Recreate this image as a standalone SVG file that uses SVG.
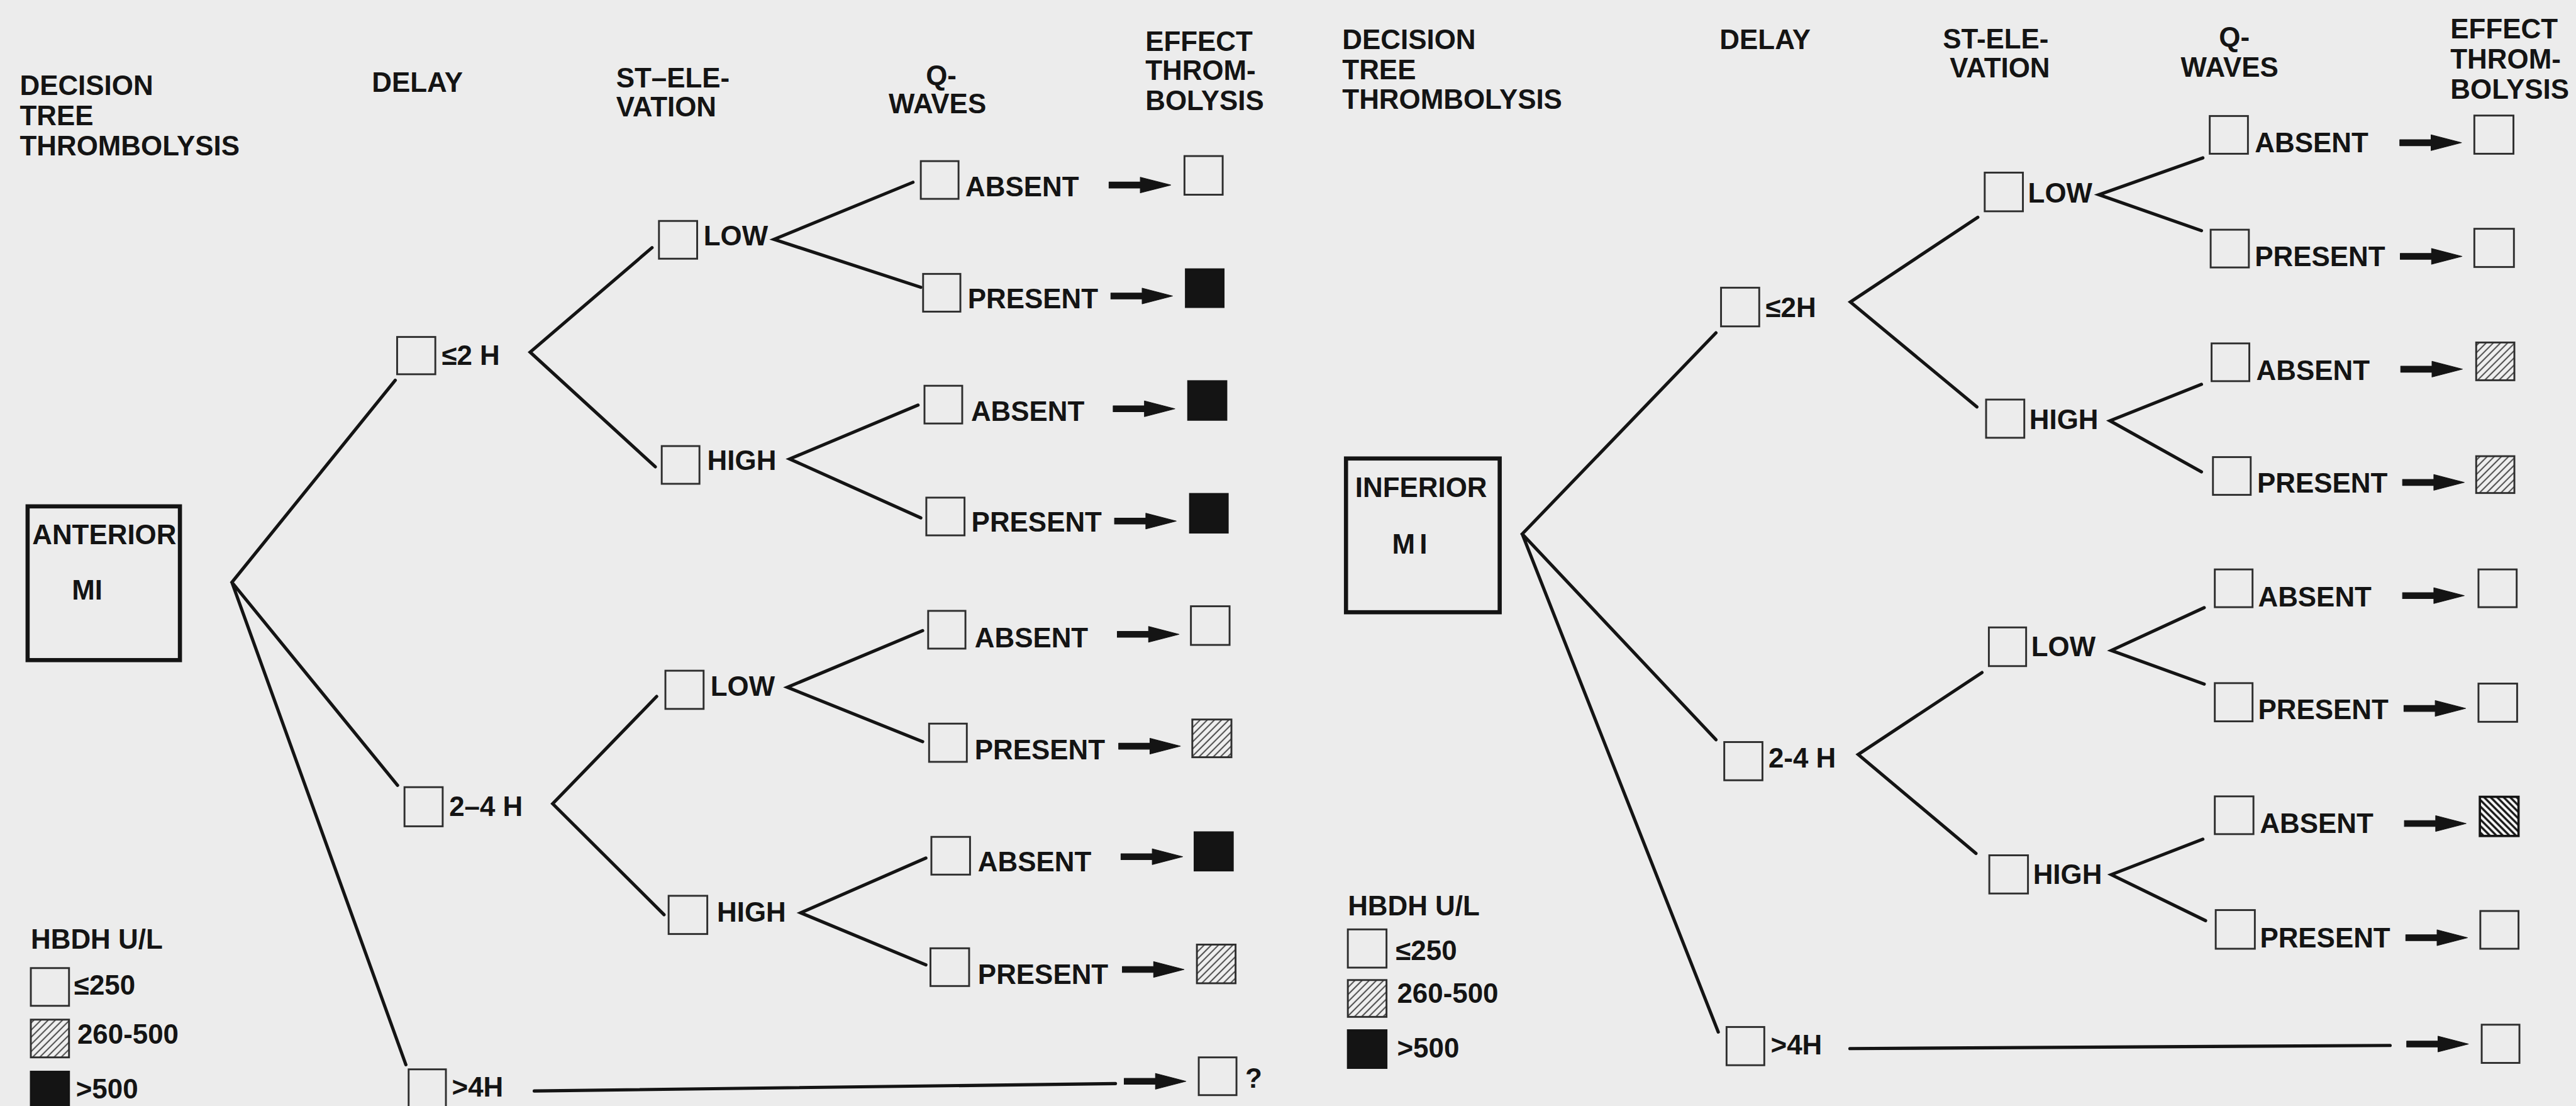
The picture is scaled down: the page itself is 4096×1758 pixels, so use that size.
<svg xmlns="http://www.w3.org/2000/svg" width="4096" height="1758" viewBox="0 0 4096 1758">
<style>
text{font-family:"Liberation Sans",Arial,sans-serif;font-weight:bold;font-size:60px;fill:#141414}
.bx{fill:none;stroke:#2e2e2e;stroke-width:4}
.root{fill:none;stroke:#141414;stroke-width:9}
.blk{fill:#141414;stroke:#141414;stroke-width:4}
.ht{fill:url(#hatch);stroke:#2e2e2e;stroke-width:4}
.ht2{fill:url(#hatch2);stroke:#141414;stroke-width:5}
.ln{fill:none;stroke:#141414;stroke-width:7;stroke-linecap:round;stroke-linejoin:miter}
.ar{fill:#141414;stroke:#141414;stroke-width:1.5;stroke-linejoin:round}
</style>
<defs>
<pattern id="hatch" patternUnits="userSpaceOnUse" width="11" height="11" patternTransform="rotate(45)">
<rect width="11" height="11" fill="#efefef"/>
<line x1="2" y1="0" x2="2" y2="11" stroke="#333" stroke-width="2.4"/>
</pattern>
<pattern id="hatch2" patternUnits="userSpaceOnUse" width="10" height="10" patternTransform="rotate(-45)">
<rect width="10" height="10" fill="#f5f5f5"/>
<line x1="2.5" y1="0" x2="2.5" y2="10" stroke="#141414" stroke-width="4.5"/>
</pattern>
<path id="arrow" d="M0,-6.5 H68 V-17 L134,0 L68,17 V6.5 H0 Z"/>
</defs>
<rect width="4096" height="1758" fill="#ececec"/>
<g transform="scale(0.7317)">

<!-- LEFT TREE -->
<g id="left-headers">
<text x="43" y="207">DECISION</text>
<text x="43" y="272">TREE</text>
<text x="43" y="337">THROMBOLYSIS</text>
<text x="808" y="200">DELAY</text>
<text x="1339" y="190">ST–ELE-</text>
<text x="1339" y="253">VATION</text>
<text x="2012" y="184">Q-</text>
<text x="1931" y="246">WAVES</text>
<text x="2489" y="111">EFFECT</text>
<text x="2489" y="174">THROM-</text>
<text x="2489" y="239">BOLYSIS</text>
</g>

<g id="L-connectors">
<path class="ln" d="M859,826 L504,1265 L864,1706 M504,1265 L882,2313"/>
<path class="ln" d="M1417,538 L1152,765 L1424,1014"/>
<path class="ln" d="M1427,1513 L1201,1746 L1443,1987"/>
<path class="ln" d="M1984,396 L1682,520 L2001,624"/>
<path class="ln" d="M1995,880 L1716,997 L2001,1125"/>
<path class="ln" d="M2005,1370 L1711,1493 L2005,1611"/>
<path class="ln" d="M2012,1864 L1740,1983 L2012,2096"/>
<path class="ln" d="M1161,2370 L2424,2354"/>
<use href="#arrow" class="ar" x="2410" y="402"/>
<use href="#arrow" class="ar" x="2414" y="643"/>
<use href="#arrow" class="ar" x="2419" y="888"/>
<use href="#arrow" class="ar" x="2422" y="1132"/>
<use href="#arrow" class="ar" x="2428" y="1378"/>
<use href="#arrow" class="ar" x="2431" y="1621"/>
<use href="#arrow" class="ar" x="2436" y="1861"/>
<use href="#arrow" class="ar" x="2439" y="2106"/>
<use href="#arrow" class="ar" x="2443" y="2349"/>
</g>

<g id="L-root"><rect class="root" x="60" y="1100" width="331" height="334"/><text x="70" y="1182">ANTERIOR</text><text x="156" y="1303">MI</text></g>
<g id="L-d1"><rect class="bx" x="863" y="732" width="83" height="81"/><text x="960" y="792">≤2 H</text></g>
<g id="L-d2"><rect class="bx" x="879" y="1710" width="83" height="85"/><text x="976" y="1772">2–4 H</text></g>
<g id="L-d3"><rect class="bx" x="888" y="2323" width="81" height="82"/><text x="982" y="2382">&gt;4H</text></g>
<g id="L-s1"><rect class="bx" x="1432" y="480" width="83" height="82"/><text x="1529" y="533">LOW</text></g>
<g id="L-s2"><rect class="bx" x="1438" y="969" width="82" height="82"/><text x="1537" y="1021">HIGH</text></g>
<g id="L-s3"><rect class="bx" x="1446" y="1457" width="83" height="83"/><text x="1544" y="1511">LOW</text></g>
<g id="L-s4"><rect class="bx" x="1453" y="1946" width="84" height="83"/><text x="1558" y="2002">HIGH</text></g>
<g id="L-q1"><rect class="bx" x="2001" y="350" width="82" height="82"/><text x="2098" y="427">ABSENT</text></g>
<g id="L-q2"><rect class="bx" x="2006" y="595" width="81" height="82"/><text x="2103" y="669">PRESENT</text></g>
<g id="L-q3"><rect class="bx" x="2009" y="838" width="82" height="82"/><text x="2110" y="914">ABSENT</text></g>
<g id="L-q4"><rect class="bx" x="2013" y="1081" width="83" height="82"/><text x="2111" y="1155">PRESENT</text></g>
<g id="L-q5"><rect class="bx" x="2017" y="1327" width="81" height="82"/><text x="2118" y="1406">ABSENT</text></g>
<g id="L-q6"><rect class="bx" x="2019" y="1572" width="82" height="83"/><text x="2118" y="1649">PRESENT</text></g>
<g id="L-q7"><rect class="bx" x="2024" y="1818" width="84" height="82"/><text x="2125" y="1893">ABSENT</text></g>
<g id="L-q8"><rect class="bx" x="2022" y="2060" width="84" height="82"/><text x="2125" y="2138">PRESENT</text></g>
<g id="L-e1"><rect class="bx" x="2574" y="339" width="83" height="84"/></g>
<g id="L-e2"><rect class="blk" x="2577" y="585" width="82" height="82"/></g>
<g id="L-e3"><rect class="blk" x="2582" y="828" width="83" height="84"/></g>
<g id="L-e4"><rect class="blk" x="2586" y="1073" width="82" height="84"/></g>
<g id="L-e5"><rect class="bx" x="2588" y="1317" width="84" height="84"/></g>
<g id="L-e6"><rect class="ht" x="2591" y="1563" width="85" height="82"/></g>
<g id="L-e7"><rect class="blk" x="2596" y="1808" width="83" height="83"/></g>
<g id="L-e8"><rect class="ht" x="2601" y="2052" width="84" height="84"/></g>
<g id="L-e9"><rect class="bx" x="2605" y="2297" width="82" height="82"/><text x="2706" y="2363">?</text></g>

<g id="L-legend">
<text x="67" y="2061">HBDH U/L</text>
<rect class="bx" x="67" y="2103" width="83" height="82"/><text x="161" y="2161">≤250</text>
<rect class="ht" x="67" y="2215" width="83" height="82"/><text x="168" y="2267">260-500</text>
<rect class="blk" x="67" y="2328" width="83" height="82"/><text x="165" y="2386">&gt;500</text>
</g>

<!-- RIGHT TREE -->
<g id="right-headers">
<text x="2917" y="107">DECISION</text>
<text x="2917" y="172">TREE</text>
<text x="2917" y="237">THROMBOLYSIS</text>
<text x="3737" y="106">DELAY</text>
<text x="4222" y="105">ST-ELE-</text>
<text x="4237" y="168">VATION</text>
<text x="4822" y="101">Q-</text>
<text x="4739" y="167">WAVES</text>
<text x="5325" y="83">EFFECT</text>
<text x="5325" y="149">THROM-</text>
<text x="5325" y="214">BOLYSIS</text>
</g>

<g id="R-connectors">
<path class="ln" d="M3729,723 L3308,1160 L3729,1607 M3308,1160 L3734,2242"/>
<path class="ln" d="M4298,472 L4021,656 L4296,884"/>
<path class="ln" d="M4307,1461 L4038,1639 L4294,1854"/>
<path class="ln" d="M4787,343 L4561,423 L4784,501"/>
<path class="ln" d="M4784,835 L4585,914 L4784,1025"/>
<path class="ln" d="M4790,1320 L4588,1413 L4790,1486"/>
<path class="ln" d="M4787,1823 L4588,1900 L4793,2000"/>
<path class="ln" d="M4020,2278 L5194,2271"/>
<use href="#arrow" class="ar" x="5215" y="310"/>
<use href="#arrow" class="ar" x="5216" y="557"/>
<use href="#arrow" class="ar" x="5217" y="802"/>
<use href="#arrow" class="ar" x="5221" y="1048"/>
<use href="#arrow" class="ar" x="5221" y="1294"/>
<use href="#arrow" class="ar" x="5224" y="1539"/>
<use href="#arrow" class="ar" x="5225" y="1789"/>
<use href="#arrow" class="ar" x="5228" y="2037"/>
<use href="#arrow" class="ar" x="5230" y="2268"/>
</g>

<g id="R-root"><rect class="root" x="2925" y="996" width="334" height="334"/><text x="2945" y="1080">INFERIOR</text><text x="3025" y="1202">M<tspan dx="10">I</tspan></text></g>
<g id="R-d1"><rect class="bx" x="3740" y="625" width="83" height="84"/><text x="3837" y="689">≤2H</text></g>
<g id="R-d2"><rect class="bx" x="3747" y="1612" width="83" height="83"/><text x="3843" y="1667">2-4 H</text></g>
<g id="R-d3"><rect class="bx" x="3752" y="2231" width="82" height="83"/><text x="3848" y="2291">&gt;4H</text></g>
<g id="R-s1"><rect class="bx" x="4313" y="375" width="83" height="84"/><text x="4407" y="440">LOW</text></g>
<g id="R-s2"><rect class="bx" x="4316" y="868" width="83" height="83"/><text x="4410" y="932">HIGH</text></g>
<g id="R-s3"><rect class="bx" x="4322" y="1363" width="81" height="84"/><text x="4414" y="1426">LOW</text></g>
<g id="R-s4"><rect class="bx" x="4323" y="1858" width="84" height="83"/><text x="4418" y="1920">HIGH</text></g>
<g id="R-q1"><rect class="bx" x="4802" y="252" width="83" height="82"/><text x="4900" y="331">ABSENT</text></g>
<g id="R-q2"><rect class="bx" x="4804" y="499" width="83" height="82"/><text x="4900" y="578">PRESENT</text></g>
<g id="R-q3"><rect class="bx" x="4806" y="746" width="82" height="82"/><text x="4903" y="825">ABSENT</text></g>
<g id="R-q4"><rect class="bx" x="4809" y="993" width="82" height="82"/><text x="4905" y="1070">PRESENT</text></g>
<g id="R-q5"><rect class="bx" x="4813" y="1237" width="82" height="82"/><text x="4907" y="1317">ABSENT</text></g>
<g id="R-q6"><rect class="bx" x="4813" y="1484" width="82" height="83"/><text x="4907" y="1562">PRESENT</text></g>
<g id="R-q7"><rect class="bx" x="4813" y="1730" width="84" height="82"/><text x="4911" y="1810">ABSENT</text></g>
<g id="R-q8"><rect class="bx" x="4815" y="1977" width="85" height="84"/><text x="4911" y="2058">PRESENT</text></g>
<g id="R-e1"><rect class="bx" x="5377" y="251" width="85" height="83"/></g>
<g id="R-e2"><rect class="bx" x="5377" y="497" width="86" height="83"/></g>
<g id="R-e3"><rect class="ht" x="5381" y="744" width="83" height="82"/></g>
<g id="R-e4"><rect class="ht" x="5381" y="991" width="83" height="80"/></g>
<g id="R-e5"><rect class="bx" x="5386" y="1237" width="83" height="82"/></g>
<g id="R-e6"><rect class="bx" x="5386" y="1485" width="84" height="83"/></g>
<g id="R-e7"><rect class="ht2" x="5389" y="1731" width="84" height="85"/></g>
<g id="R-e8"><rect class="bx" x="5390" y="1979" width="83" height="82"/></g>
<g id="R-e9"><rect class="bx" x="5393" y="2226" width="82" height="83"/></g>

<g id="R-legend">
<text x="2929" y="1989">HBDH U/L</text>
<rect class="bx" x="2929" y="2019" width="84" height="83"/><text x="3033" y="2086">≤250</text>
<rect class="ht" x="2929" y="2129" width="84" height="80"/><text x="3036" y="2179">260-500</text>
<rect class="blk" x="2929" y="2238" width="84" height="82"/><text x="3036" y="2297">&gt;500</text>
</g>

</g>
</svg>
